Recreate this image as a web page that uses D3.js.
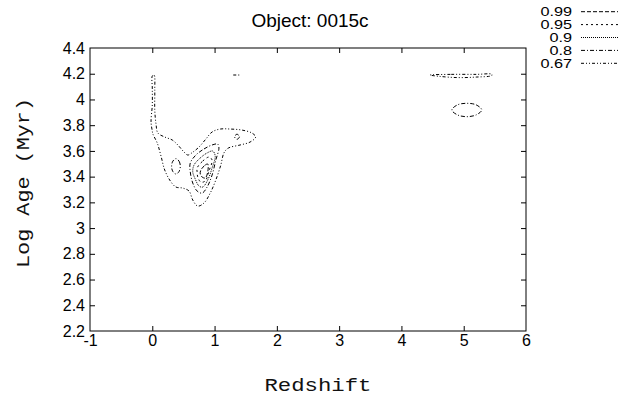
<!DOCTYPE html>
<html>
<head>
<meta charset="utf-8">
<script src="https://cdn.jsdelivr.net/npm/d3@7"></script>
<style>
  html, body { margin: 0; padding: 0; background: #fff; }
  svg { display: block; }
</style>
</head>
<body>
<svg id="chart" width="621" height="400"></svg>
<script>
// ---------- data ----------
const title = "Object: 0015c";
const xLabel = "Redshift";
const yLabel = "Log Age (Myr)";
const xTicks = [-1, 0, 1, 2, 3, 4, 5, 6];
const yTicks = [2.2, 2.4, 2.6, 2.8, 3, 3.2, 3.4, 3.6, 3.8, 4, 4.2, 4.4];
const levels = ["0.99", "0.95", "0.9", "0.8", "0.67"];

// contour paths: [redshift, logAge]
const c067Main = [
  [0.00,3.755],[-0.02,3.825],[0.00,3.957],[0.00,4.089],[0.00,4.182],[0.03,4.19],
  [0.04,4.073],[0.04,3.918],[0.06,3.809],[0.09,3.739],[0.20,3.708],[0.32,3.685],
  [0.41,3.646],[0.51,3.591],[0.57,3.568],[0.65,3.590],[0.75,3.630],[0.86,3.692],
  [0.96,3.747],[1.09,3.770],[1.25,3.770],[1.44,3.762],[1.60,3.739],[1.66,3.708],
  [1.57,3.669],[1.41,3.646],[1.22,3.622],[1.15,3.584],[1.10,3.490],[1.02,3.374],
  [0.93,3.272],[0.83,3.195],[0.73,3.171],[0.65,3.218],[0.59,3.288],[0.49,3.311],
  [0.38,3.319],[0.29,3.366],[0.20,3.451],[0.14,3.560],[0.08,3.661],[0.01,3.731]
];
const c067Top = [[1.30,4.19],[1.41,4.19]];
const c067Right = [
  [4.46,4.190],[4.80,4.195],[5.20,4.195],[5.45,4.196],[5.45,4.186],
  [5.20,4.174],[4.90,4.170],[4.60,4.180]
];
const c080Core = [
  [0.70,3.568],[0.83,3.615],[0.96,3.646],[1.05,3.653],[1.07,3.622],[1.02,3.529],
  [0.96,3.412],[0.88,3.319],[0.80,3.272],[0.72,3.288],[0.65,3.350],[0.61,3.436],
  [0.61,3.506]
];
const c080Left = [
  [0.38,3.54],[0.43,3.52],[0.45,3.48],[0.43,3.44],[0.38,3.42],[0.33,3.44],
  [0.31,3.48],[0.33,3.52]
];
const c080Lobe = [[1.36,3.73],[1.40,3.71],[1.36,3.69],[1.32,3.71]];
const c080Ellipse = [
  [5.05,3.970],[5.20,3.958],[5.29,3.918],[5.20,3.880],[5.05,3.866],[4.90,3.880],
  [4.81,3.918],[4.90,3.958]
];
const c090Core = [
  [0.67,3.490],[0.77,3.545],[0.88,3.584],[0.97,3.599],[1.01,3.560],[0.96,3.467],
  [0.89,3.374],[0.81,3.319],[0.75,3.327],[0.69,3.381],[0.65,3.436]
];
const c095Core = [
  [0.72,3.467],[0.81,3.521],[0.91,3.552],[0.96,3.529],[0.91,3.444],[0.85,3.366],
  [0.78,3.358],[0.73,3.397],[0.72,3.436]
];
const c099Core = [
  [0.78,3.451],[0.85,3.490],[0.89,3.498],[0.89,3.436],[0.85,3.389],[0.80,3.397],
  [0.77,3.420]
];

const contours = [
  { level: "0.67", pts: c067Main,   closed: true },
  { level: "0.67", pts: c067Top,    closed: false },
  { level: "0.67", pts: c067Right,  closed: true },
  { level: "0.8",  pts: c080Core,   closed: true },
  { level: "0.8",  pts: c080Left,   closed: true },
  { level: "0.8",  pts: c080Lobe,   closed: true },
  { level: "0.8",  pts: c080Ellipse,closed: true },
  { level: "0.9",  pts: c090Core,   closed: true },
  { level: "0.95", pts: c095Core,   closed: true },
  { level: "0.99", pts: c099Core,   closed: true }
];

// ---------- styles ----------
const dashes = { "0.99": "4,2", "0.95": "2,3", "0.9": "1,1", "0.8": "4,2,1,2", "0.67": "3,2,1,2,1,2" };
const sans = "'Liberation Sans', Arial, sans-serif";
const mono = "'Liberation Mono', 'Courier New', monospace";

const svg = d3.select("#chart");
const L = 90, R = 526, T = 48, B = 331;
const x = d3.scaleLinear().domain([-1, 6]).range([L, R]);
const y = d3.scaleLinear().domain([2.2, 4.4]).range([B, T]);
const fmt = d => String(+(+d).toFixed(1));

// axes
const gL = svg.append("g").attr("transform", `translate(${L},0)`)
  .call(d3.axisLeft(y).tickValues(yTicks).tickSizeInner(-5).tickSizeOuter(0).tickPadding(5).tickFormat(fmt));
const gR = svg.append("g").attr("transform", `translate(${R},0)`)
  .call(d3.axisRight(y).tickValues(yTicks).tickSizeInner(-5).tickSizeOuter(0).tickFormat(""));
const gB = svg.append("g").attr("transform", `translate(0,${B})`)
  .call(d3.axisBottom(x).tickValues(xTicks).tickSizeInner(-5).tickSizeOuter(0).tickPadding(4).tickFormat(fmt));
const gT = svg.append("g").attr("transform", `translate(0,${T})`)
  .call(d3.axisTop(x).tickValues(xTicks).tickSizeInner(-5).tickSizeOuter(0).tickFormat(""));
[gL, gR, gB, gT].forEach(g => {
  g.select(".domain").remove();
  g.selectAll(".tick line").attr("stroke", "#000");
  g.selectAll(".tick text").attr("fill", "#000").style("font-family", sans).style("font-size", "16px");
});
gL.selectAll(".tick").filter(d => d === 2.2 || d === 4.4).select("line").remove();
gB.selectAll(".tick").filter(d => d === -1 || d === 6).select("line").remove();
gT.selectAll(".tick").filter(d => d === -1 || d === 6).select("line").remove();
gR.selectAll(".tick").filter(d => d === 2.2 || d === 4.4).select("line").remove();

// frame
svg.append("rect").attr("x", L).attr("y", T).attr("width", R - L).attr("height", B - T)
  .attr("fill", "none").attr("stroke", "#000").attr("stroke-width", 1);

// contours
const lineC = d3.line().x(d => x(d[0])).y(d => y(d[1])).curve(d3.curveCatmullRomClosed.alpha(0.5));
const lineO = d3.line().x(d => x(d[0])).y(d => y(d[1]));
svg.append("g").selectAll("path").data(contours).join("path")
  .attr("d", c => (c.closed ? lineC : lineO)(c.pts))
  .attr("fill", "none").attr("stroke", "#000").attr("stroke-width", 1)
  .attr("stroke-dasharray", c => dashes[c.level]);

// title
svg.append("text").attr("x", 310).attr("y", 27).attr("text-anchor", "middle")
  .style("font-family", sans).style("font-size", "19px").text(title);

// axis labels
svg.append("text").attr("x", 318).attr("y", 391).attr("text-anchor", "middle")
  .attr("textLength", 107).attr("lengthAdjust", "spacingAndGlyphs").attr("fill", "#111")
  .style("font-family", mono).style("font-size", "19px").text(xLabel);
svg.append("text").attr("transform", "translate(29,183) rotate(-90)").attr("text-anchor", "middle")
  .attr("textLength", 170).attr("lengthAdjust", "spacingAndGlyphs").attr("fill", "#111")
  .style("font-family", mono).style("font-size", "19px").text(yLabel);

// legend
const lg = svg.append("g").selectAll("g").data(levels).join("g")
  .attr("transform", (d, i) => `translate(0,${11.7 + i * 12.9})`);
lg.append("text").attr("text-anchor", "end")
  .attr("transform", "translate(572,4.5) scale(1.25,1)")
  .style("font-family", sans).style("font-size", "13px").text(d => d);
lg.append("line").attr("x1", 581).attr("x2", 618).attr("y1", 0).attr("y2", 0)
  .attr("stroke", "#000").attr("stroke-width", 1).attr("stroke-dasharray", d => dashes[d]);
</script>
</body>
</html>
